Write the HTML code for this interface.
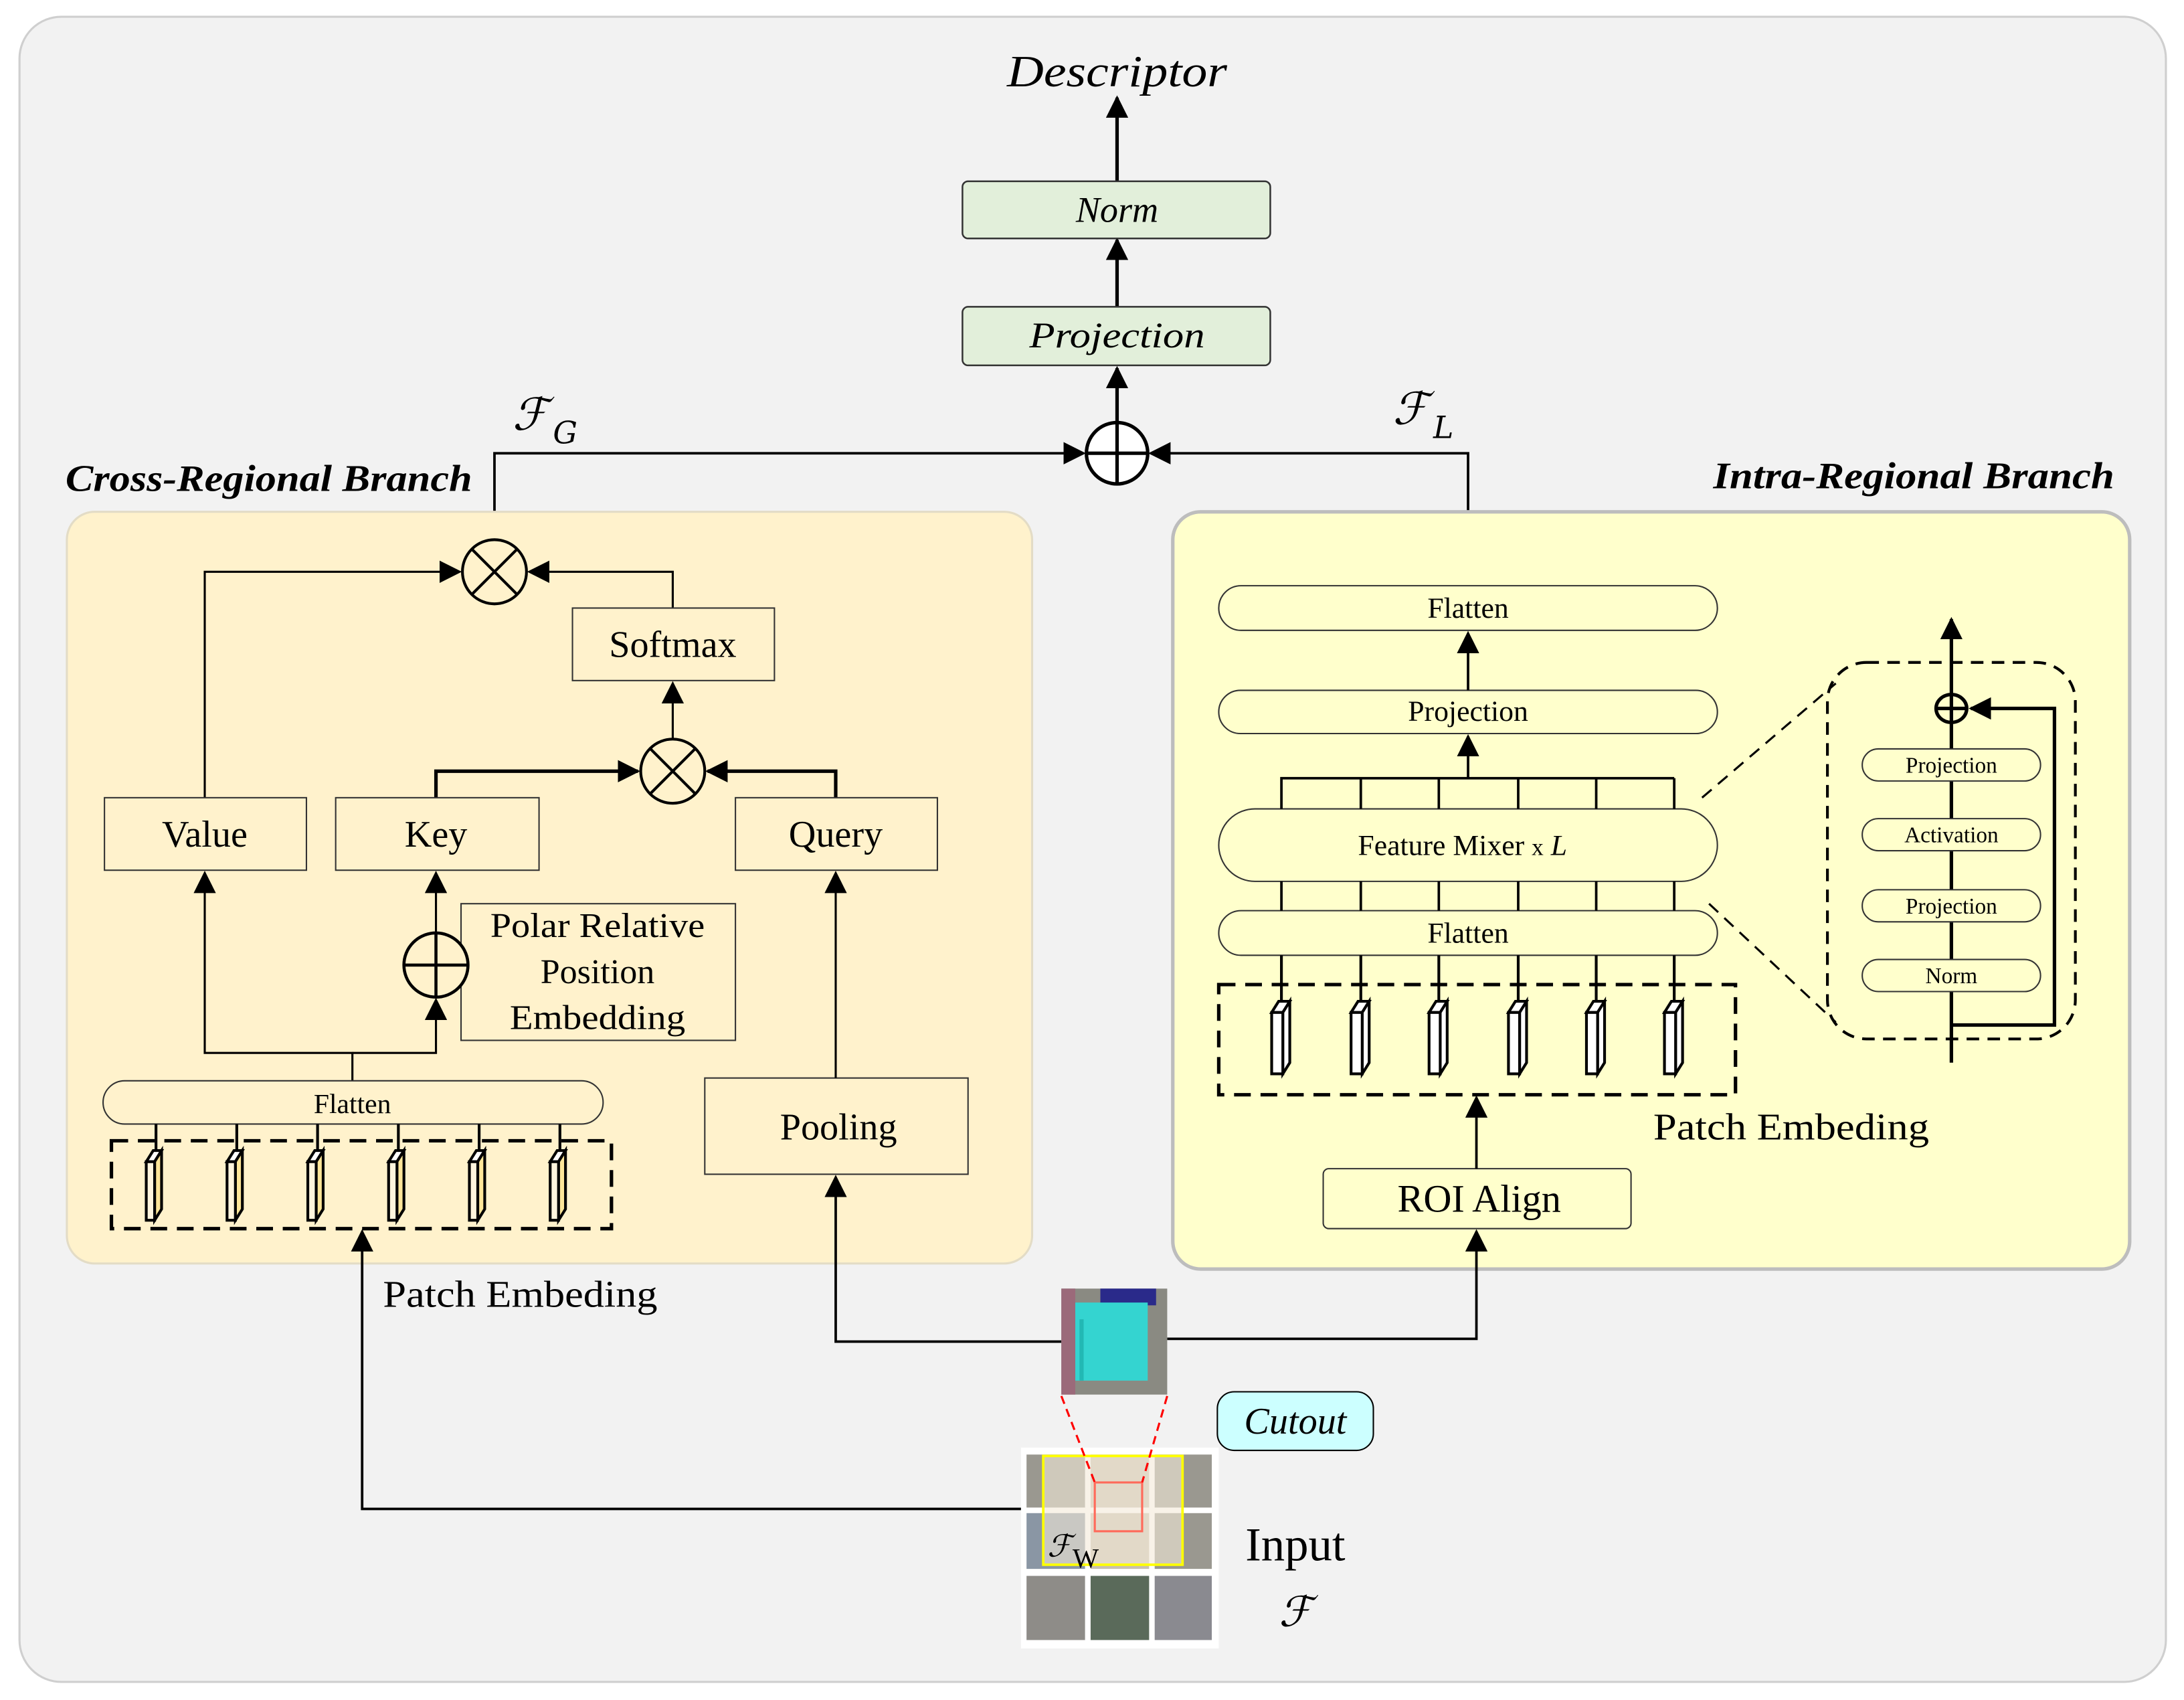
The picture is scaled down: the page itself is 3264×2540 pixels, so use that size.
<!DOCTYPE html>
<html><head><meta charset="utf-8"><style>
html,body{margin:0;padding:0;background:#fff}
svg{display:block}
text{font-family:"Liberation Serif",serif;fill:#000}
.m{font-family:"DejaVu Serif","Liberation Serif",serif;font-style:italic}
</style></head><body>
<svg width="3264" height="2540" viewBox="0 0 1568 1219" preserveAspectRatio="none" xmlns="http://www.w3.org/2000/svg">
<defs>
<marker id="b" viewBox="0 0 10 10" refX="9" refY="5" markerWidth="16" markerHeight="16" markerUnits="userSpaceOnUse" orient="auto"><path d="M0,0 L10,5 L0,10z" fill="#000"/></marker>
</defs>
<rect x="0" y="0" width="1568" height="1219" fill="#fff"/>
<rect x="14" y="12" width="1541" height="1194" rx="30" fill="#f2f2f2" stroke="#cfcfcf" stroke-width="1.5"/>

<text x="802" y="62" font-size="32" font-style="italic" text-anchor="middle" textLength="158" lengthAdjust="spacingAndGlyphs">Descriptor</text>
<g stroke="#000" stroke-width="2.5" fill="none">
<line x1="802" y1="130" x2="802" y2="70" marker-end="url(#b)"/>
<line x1="802" y1="220" x2="802" y2="172" marker-end="url(#b)"/>
<line x1="802" y1="303" x2="802" y2="264" marker-end="url(#b)"/>
</g>
<rect x="691" y="130" width="221" height="41" rx="4" fill="#e2efda" stroke="#333" stroke-width="1.2"/>
<text x="802" y="159" font-size="26" font-style="italic" text-anchor="middle">Norm</text>
<rect x="691" y="220" width="221" height="42" rx="4" fill="#e2efda" stroke="#333" stroke-width="1.2"/>
<text x="802" y="249" font-size="26" font-style="italic" text-anchor="middle" textLength="126" lengthAdjust="spacingAndGlyphs">Projection</text>
<g stroke="#000" stroke-width="2.5" fill="none">
<circle cx="802" cy="325" r="22" fill="#fff"/>
<line x1="780" y1="325" x2="824" y2="325"/><line x1="802" y1="303" x2="802" y2="347"/>
</g>
<g stroke="#000" stroke-width="1.8" fill="none">
<polyline points="355,387 355,325 778,325" marker-end="url(#b)"/>
<polyline points="1054,420 1054,325 826,325" marker-end="url(#b)"/>
</g>
<text x="368" y="308" font-size="32" class="m">ℱ</text><text x="397" y="318" font-size="22" class="m">G</text>
<text x="1000" y="304" font-size="32" class="m">ℱ</text><text x="1029" y="314" font-size="22" class="m">L</text>
<text x="47" y="352" font-size="27" font-weight="bold" font-style="italic" textLength="292" lengthAdjust="spacingAndGlyphs">Cross-Regional Branch</text>
<text x="1230" y="350" font-size="27" font-weight="bold" font-style="italic" textLength="288" lengthAdjust="spacingAndGlyphs">Intra-Regional Branch</text>

<rect x="48" y="367" width="693" height="539" rx="20" fill="#fff2cc" stroke="#e3dcc6" stroke-width="1.5"/>
<g stroke="#000" stroke-width="1.5" fill="none">
<polyline points="147,572 147,410 330,410" marker-end="url(#b)"/>
<polyline points="483,436 483,410 380,410" marker-end="url(#b)"/>
<line x1="483" y1="530" x2="483" y2="490" marker-end="url(#b)"/>
</g>
<g stroke="#000" stroke-width="2.5" fill="none">
<polyline points="313,572 313,553 458,553" marker-end="url(#b)"/>
<polyline points="600,572 600,553 508,553" marker-end="url(#b)"/>
</g>
<g stroke="#000" stroke-width="2" fill="none">
<circle cx="355" cy="410" r="23" fill="#fff2cc"/>
<line x1="339" y1="394" x2="371" y2="426"/><line x1="371" y1="394" x2="339" y2="426"/>
<circle cx="483" cy="553" r="23" fill="#fff2cc"/>
<line x1="467" y1="537" x2="499" y2="569"/><line x1="499" y1="537" x2="467" y2="569"/>
</g>
<g fill="#fff2cc" stroke="#333" stroke-width="1">
<rect x="411" y="436" width="145" height="52"/>
<rect x="75" y="572" width="145" height="52"/>
<rect x="241" y="572" width="146" height="52"/>
<rect x="528" y="572" width="145" height="52"/>
<rect x="331" y="648" width="197" height="98"/>
<rect x="506" y="773" width="189" height="69"/>
</g>
<g font-size="27" text-anchor="middle">
<text x="483" y="471">Softmax</text>
<text x="147" y="607">Value</text>
<text x="313" y="607">Key</text>
<text x="600" y="607">Query</text>
<text x="602" y="817">Pooling</text>
</g>
<g font-size="25" text-anchor="middle">
<text x="429" y="672" textLength="154" lengthAdjust="spacingAndGlyphs">Polar Relative</text>
<text x="429" y="705">Position</text>
<text x="429" y="738" textLength="126" lengthAdjust="spacingAndGlyphs">Embedding</text>
</g>
<g stroke="#000" stroke-width="1.5" fill="none">
<line x1="313" y1="669" x2="313" y2="626" marker-end="url(#b)"/>
<polyline points="253,775 253,755 147,755 147,626" marker-end="url(#b)"/>
<polyline points="253,755 313,755 313,717" marker-end="url(#b)"/>
<line x1="600" y1="773" x2="600" y2="626" marker-end="url(#b)"/>
</g>
<g stroke="#000" stroke-width="2.2" fill="none">
<circle cx="313" cy="692" r="23" fill="#fff2cc"/>
<line x1="290" y1="692" x2="336" y2="692"/><line x1="313" y1="669" x2="313" y2="715"/>
</g>
<rect x="74" y="775" width="359" height="31" rx="15.5" fill="#fff2cc" stroke="#333" stroke-width="1"/>
<text x="253" y="798" font-size="20" text-anchor="middle">Flatten</text>
<rect x="80" y="818" width="359" height="63" fill="none" stroke="#000" stroke-width="2.5" stroke-dasharray="12,7"/>
<g stroke="#000" stroke-width="2">
<g id="lp"><line x1="112" y1="806" x2="112" y2="832"/>
<path d="M105,833 L110,825 L116,825 L111,833z" fill="#fff"/>
<path d="M111,833 L116,825 L116,867 L111,875z" fill="#ffe699"/>
<rect x="105" y="833" width="6" height="42" fill="#fff5dd"/></g>
<use href="#lp" x="58"/><use href="#lp" x="116"/><use href="#lp" x="174"/><use href="#lp" x="232"/><use href="#lp" x="290"/>
</g>
<text x="275" y="937" font-size="27" textLength="197" lengthAdjust="spacingAndGlyphs">Patch Embeding</text>

<rect x="842" y="367" width="687" height="543" rx="20" fill="#ffffcc" stroke="#bdbdbd" stroke-width="2.5"/>
<g fill="#ffffcc" stroke="#333" stroke-width="1">
<rect x="875" y="420" width="358" height="32" rx="16"/>
<rect x="875" y="495" width="358" height="31" rx="15.5"/>
<rect x="875" y="580" width="358" height="52" rx="26"/>
<rect x="875" y="653" width="358" height="32" rx="16"/>
<rect x="950" y="838" width="221" height="43" rx="4"/>
</g>
<g font-size="21" text-anchor="middle">
<text x="1054" y="443">Flatten</text>
<text x="1054" y="517">Projection</text>
<text x="1054" y="676">Flatten</text>
<text x="1050" y="613">Feature Mixer  <tspan font-size="17">x</tspan> <tspan font-style="italic">L</tspan></text>
</g>
<text x="1062" y="869" font-size="28" text-anchor="middle">ROI Align</text>
<g stroke="#000" stroke-width="1.8" fill="none">
<line x1="1054" y1="495" x2="1054" y2="454" marker-end="url(#b)"/>
<polyline points="920,580 920,558 1202,558"/>
<line x1="977" y1="558" x2="977" y2="580"/><line x1="1033" y1="558" x2="1033" y2="580"/><line x1="1090" y1="558" x2="1090" y2="580"/><line x1="1146" y1="558" x2="1146" y2="580"/><line x1="1202" y1="558" x2="1202" y2="580"/>
<line x1="1054" y1="558" x2="1054" y2="528" marker-end="url(#b)"/>
<line x1="920" y1="632" x2="920" y2="653"/><line x1="977" y1="632" x2="977" y2="653"/><line x1="1033" y1="632" x2="1033" y2="653"/><line x1="1090" y1="632" x2="1090" y2="653"/><line x1="1146" y1="632" x2="1146" y2="653"/><line x1="1202" y1="632" x2="1202" y2="653"/>
<line x1="1060" y1="838" x2="1060" y2="787" marker-end="url(#b)"/>
</g>
<rect x="875" y="706" width="371" height="79" fill="none" stroke="#000" stroke-width="2.5" stroke-dasharray="12,7"/>
<g stroke="#000" stroke-width="2">
<g id="rp"><line x1="920" y1="685" x2="920" y2="722"/>
<path d="M913,726 L918,718 L926,718 L921,726z" fill="#fff"/>
<path d="M921,726 L926,718 L926,762 L921,770z" fill="#fff"/>
<rect x="913" y="726" width="8" height="44" fill="#fff"/></g>
<use href="#rp" x="57"/><use href="#rp" x="113"/><use href="#rp" x="170"/><use href="#rp" x="226"/><use href="#rp" x="282"/>
</g>
<text x="1187" y="817" font-size="27" textLength="198" lengthAdjust="spacingAndGlyphs">Patch Embeding</text>

<g stroke="#000" stroke-width="1.5" stroke-dasharray="9,6" fill="none">
<rect x="1312" y="475" width="178" height="270" rx="28" stroke-width="2"/>
<line x1="1222" y1="572" x2="1318" y2="490"/>
<line x1="1227" y1="648" x2="1318" y2="733"/>
</g>
<g stroke="#000" stroke-width="2.5" fill="none">
<line x1="1401" y1="762" x2="1401" y2="444" marker-end="url(#b)"/>
<polyline points="1401,735 1475,735 1475,508 1415,508" marker-end="url(#b)"/>
<ellipse cx="1401" cy="508" rx="11" ry="10" fill="#ffffcc"/>
<line x1="1390" y1="508" x2="1412" y2="508"/>
<line x1="1401" y1="498" x2="1401" y2="518"/>
</g>
<g fill="#ffffcc" stroke="#333" stroke-width="1">
<rect x="1337" y="537" width="128" height="23" rx="11.5"/>
<rect x="1337" y="587" width="128" height="23" rx="11.5"/>
<rect x="1337" y="638" width="128" height="23" rx="11.5"/>
<rect x="1337" y="688" width="128" height="23" rx="11.5"/>
</g>
<g font-size="16" text-anchor="middle">
<text x="1401" y="554">Projection</text>
<text x="1401" y="604">Activation</text>
<text x="1401" y="655">Projection</text>
<text x="1401" y="705">Norm</text>
</g>

<g stroke="#000" stroke-width="1.8" fill="none">
<polyline points="735,1082 260,1082 260,883" marker-end="url(#b)"/>
<polyline points="762,962 600,962 600,844" marker-end="url(#b)"/>
<polyline points="838,960 1060,960 1060,883" marker-end="url(#b)"/>
</g>
<rect x="762" y="924" width="76" height="76" fill="#8a8a82"/>
<rect x="762" y="924" width="10" height="76" fill="#9b6a7a"/>
<rect x="790" y="924" width="40" height="12" fill="#2a2a8a"/>
<rect x="772" y="934" width="52" height="56" fill="#34d4d0"/>
<rect x="775" y="946" width="3" height="44" fill="#22b8b4"/>
<rect x="733" y="1038" width="142" height="144" fill="#fff"/>
<g fill="#9a9890">
<rect x="737" y="1043" width="42" height="38"/><rect x="783" y="1043" width="42" height="38" fill="#c8c0b0"/><rect x="829" y="1043" width="41" height="38"/>
<rect x="737" y="1085" width="42" height="40" fill="#8a96a4"/><rect x="783" y="1085" width="42" height="40" fill="#c8c0b0"/><rect x="829" y="1085" width="41" height="40"/>
<rect x="737" y="1130" width="42" height="46" fill="#8e8c88"/><rect x="783" y="1130" width="42" height="46" fill="#5a6a5a"/><rect x="829" y="1130" width="41" height="46" fill="#8a8a90"/>
</g>
<rect x="749" y="1044" width="100" height="78" fill="#f3ead8" fill-opacity="0.6" stroke="#ffff00" stroke-width="1.8"/>
<rect x="786" y="1063" width="34" height="35" fill="none" stroke="#ff6a5a" stroke-width="1.5"/>
<g stroke="#f00" stroke-width="1.5" stroke-dasharray="6,4">
<line x1="762" y1="1001" x2="786" y2="1063"/><line x1="838" y1="1001" x2="820" y2="1063"/>
</g>
<text x="752" y="1116" font-size="22" class="m">ℱ</text><text x="770" y="1124" font-size="20">W</text>
<rect x="874" y="998" width="112" height="42" rx="12" fill="#ccffff" stroke="#000" stroke-width="1"/>
<text x="930" y="1028" font-size="27" font-style="italic" text-anchor="middle">Cutout</text>
<text x="930" y="1119" font-size="34" text-anchor="middle">Input</text>
<text x="930" y="1166" font-size="30" class="m" text-anchor="middle">ℱ</text>
</svg>
</body></html>
